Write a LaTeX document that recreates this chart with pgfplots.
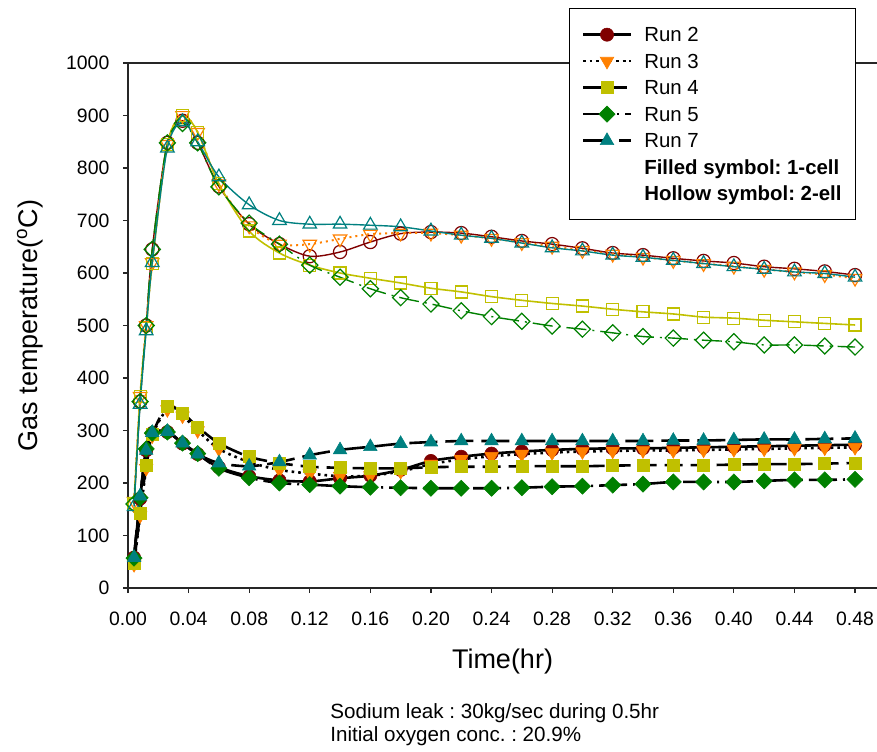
\documentclass[border=0pt]{standalone}
\usepackage{fontspec}
\setmainfont{Liberation Sans}
\usepackage{pgfplots}
\usepackage{pgfplotstable}
\pgfplotsset{compat=1.18}
\definecolor{runtwo}{RGB}{128,0,0}
\definecolor{runthree}{RGB}{255,128,0}
\definecolor{runfour}{RGB}{192,192,0}
\definecolor{runfive}{RGB}{0,128,0}
\definecolor{runseven}{RGB}{0,128,128}
\frenchspacing

% h = hollow symbol (2-cell), f = filled symbol (1-cell)
\pgfplotstableread{
t     h2  h3  h4  h5  h7  f2  f3  f4  f5  f7
0.004 160 165 160 160 155 58  45  48  57  58
0.008 355 365 365 355 350 170 138 142 172 175
0.012 500 500 495 500 490 262 228 234 265 262
0.016 645 620 618 645 620 295 290 292 295 296
0.026 848 845 845 848 838 297 340 346 297 298
0.036 890 900 900 885 888 275 328 333 276 276
0.046 848 868 868 848 850 255 300 307 256 255
0.06  765 770 770 764 783 230 265 276 228 238
0.08  693 690 680 695 730 213 240 250 210 232
0.10  655 655 638 655 700 205 225 238 200 240
0.12  632 655 615 615 693 203 218 231 197 253
0.14  640 665 600 592 693 209 213 229 194 263
0.16  659 674 590 570 691 214 214 228 192 269
0.18  675 676 581 553 688 225 222 228 191 275
0.20  678 676 571 541 680 242 236 230 190 278
0.22  676 672 564 528 672 250 245 231 190 280
0.24  669 666 555 517 666 256 251 231 190 280
0.26  661 658 548 508 657 260 255 232 191 280
0.28  655 651 542 499 648 263 258 232 193 280
0.30  647 643 537 493 642 265 260 232 194 280
0.32  638 636 531 486 634 266 261 233 196 280
0.34  634 630 526 479 630 266 262 234 198 280
0.36  628 624 522 476 624 267 262 234 202 281
0.38  623 618 516 472 618 268 263 234 202 281
0.40  619 613 514 469 612 269 264 235 202 282
0.42  612 607 510 463 607 270 265 236 204 283
0.44  608 602 507 463 602 271 266 236 206 283
0.46  603 597 504 461 599 272 267 237 206 284
0.48  596 590 501 459 592 273 268 238 207 285
}\gasdata

\begin{document}
\begin{tikzpicture}
\begin{axis}[
  at={(0,0)}, anchor=south west,
  width=374.5pt, height=262.5pt, scale only axis,
  xmin=0, xmax=0.4945, ymin=0, ymax=1000,
  axis lines*=left, clip=false,
  axis line style={black!85, line width=0.7pt},
  xtick={0,0.04,0.08,0.12,0.16,0.2,0.24,0.28,0.32,0.36,0.4,0.44,0.48},
  ytick={0,100,200,300,400,500,600,700,800,900,1000},
  tick align=outside, major tick length=2.5pt,
  tick style={black!85, line width=0.6pt},
  /pgf/number format/1000 sep={},
  /pgf/number format/assume math mode=true,
  tick label style={font=\fontsize{9.7}{11}\selectfont},
  xticklabel style={yshift=-6pt, /pgf/number format/fixed, /pgf/number format/fixed zerofill, /pgf/number format/precision=2},
  yticklabel style={xshift=-3.3pt},
  legend style={at={(rel axis cs:0.5888,1.1048)}, anchor=north west,
    draw=black, line width=0.7pt, inner xsep=6pt, inner ysep=7pt,
    font=\fontsize{10.2}{12}\selectfont, row sep=1.25pt,
    nodes={inner sep=1pt, text height=8.5pt, text depth=1.5pt},
    /tikz/every odd column/.append style={column sep=5pt}},
  legend cell align=left,
  legend image code/.code={\draw[mark repeat=2,mark phase=2] plot coordinates {(0pt,0pt)(12pt,0pt)(24pt,0pt)};},
]
% hollow symbols, 2-cell
\addplot[runtwo, line width=0.7pt, smooth, mark=o, mark size=3.3pt, mark options={solid, line width=0.6pt}, forget plot]
  table[x=t, y=h2] {\gasdata};
\addplot[runthree, line width=1pt, dotted, smooth, mark=triangle, mark size=3.9pt, mark options={solid, line width=0.6pt, rotate=180}, forget plot]
  table[x=t, y=h3] {\gasdata};
\addplot[runfour, line width=0.8pt, smooth, mark=square, mark size=3pt, mark options={solid, line width=0.6pt}, forget plot]
  table[x=t, y=h4] {\gasdata};
\addplot[runfive, line width=0.7pt, dash pattern=on 10pt off 3pt on 1pt off 3pt, smooth, mark=square, mark size=2.85pt, mark options={solid, line width=0.6pt, rotate=45}, forget plot]
  table[x=t, y=h5] {\gasdata};
\addplot[runseven, line width=0.7pt, smooth, mark=triangle, mark size=3.9pt, mark options={solid, line width=0.6pt}, forget plot]
  table[x=t, y=h7] {\gasdata};
% filled symbols, 1-cell
\addplot[black, line width=1.3pt, smooth, mark=*, mark size=3.3pt, mark options={solid, line width=0.3pt, draw=runtwo, fill=runtwo}]
  table[x=t, y=f2] {\gasdata};
\addlegendentry{Run 2}
\addplot[black, line width=1.3pt, dotted, smooth, mark=triangle*, mark size=3.9pt, mark options={solid, line width=0.3pt, rotate=180, draw=runthree, fill=runthree}]
  table[x=t, y=f3] {\gasdata};
\addlegendentry{Run 3}
\addplot[black, line width=1.3pt, dash pattern=on 9pt off 4pt, smooth, mark=square*, mark size=3pt, mark options={solid, line width=0.3pt, draw=runfour, fill=runfour}]
  table[x=t, y=f4] {\gasdata};
\addlegendentry{Run 4}
\addplot[black, line width=1.3pt, dash pattern=on 14pt off 3pt on 1pt off 3pt, smooth, mark=square*, mark size=2.85pt, mark options={solid, line width=0.3pt, rotate=45, draw=runfive, fill=runfive}]
  table[x=t, y=f5] {\gasdata};
\addlegendentry{Run 5}
\addplot[black, line width=1.3pt, dash pattern=on 14pt off 4pt, smooth, mark=triangle*, mark size=3.9pt, mark options={solid, line width=0.3pt, draw=runseven, fill=runseven}]
  table[x=t, y=f7] {\gasdata};
\addlegendentry{Run 7}
\addlegendimage{empty legend}
\addlegendentry{\textbf{Filled symbol: 1-cell}}
\addlegendimage{empty legend}
\addlegendentry{\textbf{Hollow symbol: 2-ell}}
\draw[black!85, line width=0.7pt] (rel axis cs:0,1) -- (rel axis cs:1,1);
\end{axis}
\node[rotate=90, font=\fontsize{13.5}{15}\selectfont] at (-49pt,131.25pt) {Gas temperature(\textsuperscript{o}C)};
\node[font=\fontsize{13.5}{15}\selectfont] at (187.25pt,-37pt) {Time(hr)};
\node[anchor=west, align=left, inner sep=0pt, font=\fontsize{10.3}{11.5}\selectfont] at (101pt,-68.25pt)
  {Sodium leak : 30kg/sec during 0.5hr\\Initial oxygen conc. : 20.9\%};
\pgfresetboundingbox
\path[use as bounding box] (-64pt,-81.5pt) rectangle (374.5pt,294pt);
\end{tikzpicture}
\end{document}
